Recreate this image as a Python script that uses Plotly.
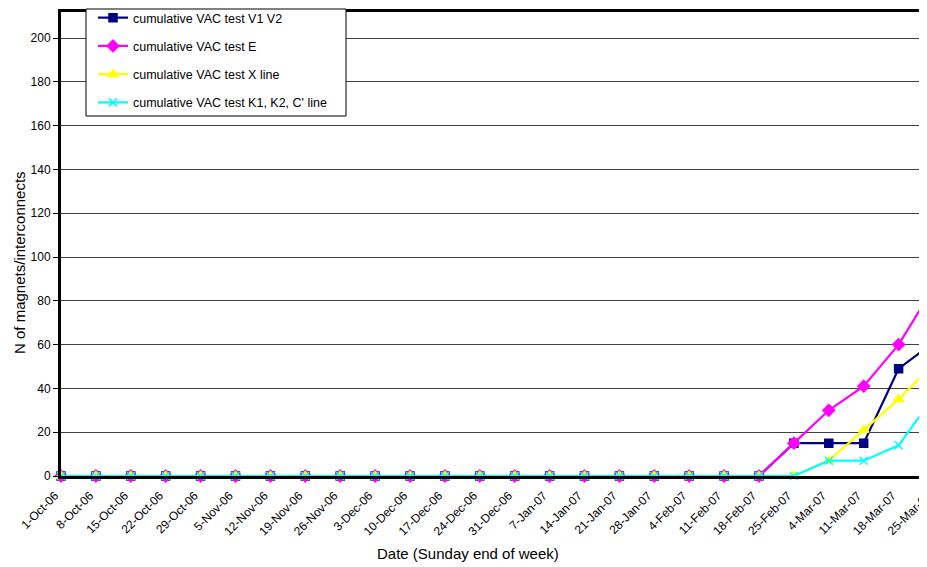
import plotly.graph_objects as go

dates = ["1-Oct-06", "8-Oct-06", "15-Oct-06", "22-Oct-06", "29-Oct-06",
         "5-Nov-06", "12-Nov-06", "19-Nov-06", "26-Nov-06",
         "3-Dec-06", "10-Dec-06", "17-Dec-06", "24-Dec-06", "31-Dec-06",
         "7-Jan-07", "14-Jan-07", "21-Jan-07", "28-Jan-07",
         "4-Feb-07", "11-Feb-07", "18-Feb-07", "25-Feb-07",
         "4-Mar-07", "11-Mar-07", "18-Mar-07", "25-Mar-07"]

v1v2 = [0]*21 + [15, 15, 15, 49, 61]
test_e = [0]*21 + [15, 30, 41, 60, 86]
x_line = [0]*21 + [0, 7, 21, 35, 51]
k_line = [0]*21 + [0, 7, 7, 14, 36]

y_ticks = list(range(0, 201, 20))

series = [
    ("cumulative VAC test V1 V2", v1v2, "#000080", "square", 8),
    ("cumulative VAC test E", test_e, "#FF00FF", "diamond", 9),
    ("cumulative VAC test X line", x_line, "#FFFF00", "triangle-up", 9),
    ("cumulative VAC test K1, K2, C' line", k_line, "#00FFFF", "x-thin-open", 8),
]

fig = go.Figure()
for i, (name, vals, col, sym, sz) in enumerate(series):
    fig.add_trace(go.Scatter(
        x=list(range(len(dates))), y=vals, name=name, mode="lines+markers",
        line=dict(color=col, width=2.2),
        marker=dict(symbol=sym, size=sz, color=col, line=dict(color=col, width=1.5)),
        cliponaxis=False, legendgroup=str(i),
    ))

# page offset (body margin) compensation; the chart runs past the right edge
OFF = 8
W, H = 960, 567
L, T = 61 - OFF, 12 - OFF
B = H - (476 - OFF)
PW, PH = W - L, H - T - B


def px(sx):
    return (sx - OFF - L) / PW


def py(sy):
    return ((476 - OFF) - (sy - OFF)) / PH


fig.update_layout(
    width=W, height=H,
    margin=dict(l=L, r=0, t=T, b=B, autoexpand=False),
    paper_bgcolor="white", plot_bgcolor="white",
    font=dict(family="Liberation Sans, Arial", size=12, color="black"),
    showlegend=True,
    legend=dict(
        x=px(93), y=py(3), xanchor="left", yanchor="top",
        borderwidth=0, bgcolor="rgba(0,0,0,0)",
        font=dict(size=12.5), tracegroupgap=9, itemwidth=30,
    ),
    xaxis=dict(
        tickmode="array", tickvals=list(range(len(dates))), ticktext=dates,
        tickangle=-45, range=[0, PW / 34.9],
        showgrid=False, zeroline=False,
        showline=True, linecolor="black", linewidth=3, mirror=True,
        ticks="", tickfont=dict(size=12),
        ticklabelshift=-6, ticklabelstandoff=5,
    ),
    yaxis=dict(
        range=[0, PH / 2.19], tickmode="array", tickvals=y_ticks,
        showgrid=True, gridcolor="#404040", gridwidth=1, zeroline=False,
        showline=True, linecolor="black", linewidth=3,
        ticks="outside", ticklen=5, tickcolor="black",
        tickfont=dict(size=12),
    ),
    shapes=[dict(
        type="rect", xref="paper", yref="paper",
        x0=px(86), x1=px(346), y0=py(116), y1=py(9),
        line=dict(color="black", width=1), fillcolor="white", layer="above",
    )],
    annotations=[
        dict(text="Date (Sunday end of week)", xref="paper", yref="paper",
             x=px(468), y=py(553), xanchor="center", yanchor="middle",
             showarrow=False, font=dict(size=15)),
        dict(text="N of magnets/interconnects", xref="paper", yref="paper",
             x=px(19), y=py(263), xanchor="center", yanchor="middle",
             textangle=-90, showarrow=False, font=dict(size=15)),
    ],
)

fig.write_html("out.html")
